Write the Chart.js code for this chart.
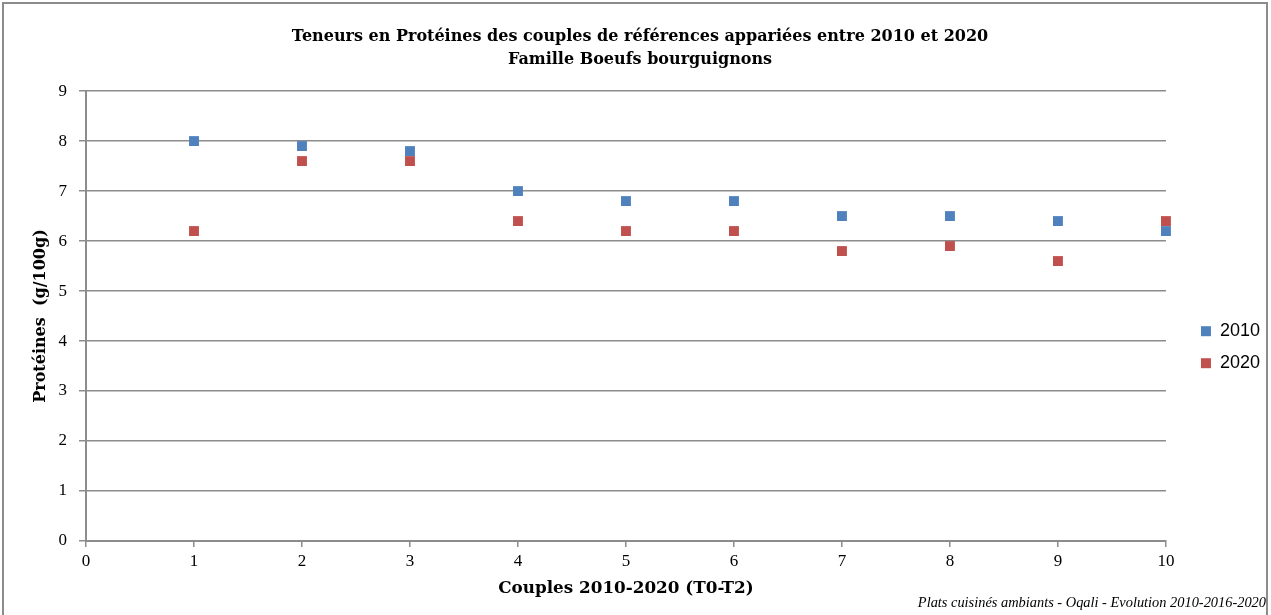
<!DOCTYPE html>
<html>
<head>
<meta charset="utf-8">
<script src="https://cdn.jsdelivr.net/npm/chart.js@4/dist/chart.umd.min.js"></script>
<style>
  html, body { margin: 0; padding: 0; background: #fff; }
  #wrap { position: relative; width: 1271px; height: 615px; overflow: hidden; }
  #frame { position: absolute; left: 2px; top: 2px; width: 1266px; height: 640px; border: 2px solid #8c8c8c; box-sizing: border-box; }
  canvas { position: absolute; left: 0; top: 0; }
  #source { position: absolute; right: 5px; top: 594px; font: italic 14.4px 'Liberation Serif', serif; line-height: 17px; color: #000; white-space: nowrap; }
</style>
</head>
<body>
<div id="wrap">
  <div id="frame"></div>
  <canvas id="chart" width="1271" height="615"></canvas>
  <div id="source">Plats cuisinés ambiants - Oqali - Evolution 2010-2016-2020</div>
</div>
<script>
// Data
const couples = [1, 2, 3, 4, 5, 6, 7, 8, 9, 10];
const proteines2010 = [8.0, 7.9, 7.8, 7.0, 6.8, 6.8, 6.5, 6.5, 6.4, 6.2];
const proteines2020 = [6.2, 7.6, 7.6, 6.4, 6.2, 6.2, 5.8, 5.9, 5.6, 6.4];
const seriesLabels = ['2010', '2020'];
const seriesColors = ['#4f81bd', '#c0504d'];

const titleSerif = "'DejaVu Serif', 'Liberation Serif', serif";
const serif = "'Liberation Serif', 'DejaVu Serif', serif";
const sans = "'Liberation Sans', 'Open Sans', sans-serif";
const gridGray = '#8c8c8c';

function toPoints(values) {
  return couples.map((c, i) => ({ x: c, y: values[i] }));
}

// push the legend a bit further from the plot, like the original
const legendOffset = {
  id: 'legendOffset',
  afterLayout(chart) {
    const lg = chart.legend;
    if (lg) { lg.left += 21; lg.right += 21; }
  },
};

const ctx = document.getElementById('chart').getContext('2d');
new Chart(ctx, {
  type: 'scatter',
  data: {
    datasets: [
      {
        label: seriesLabels[0],
        data: toPoints(proteines2010),
        backgroundColor: seriesColors[0],
        borderColor: seriesColors[0],
        pointStyle: 'rect',
        pointRadius: 7,
        borderWidth: 0,
        clip: false,
      },
      {
        label: seriesLabels[1],
        data: toPoints(proteines2020),
        backgroundColor: seriesColors[1],
        borderColor: seriesColors[1],
        pointStyle: 'rect',
        pointRadius: 7,
        borderWidth: 0,
        clip: false,
      },
    ],
  },
  plugins: [legendOffset],
  options: {
    responsive: false,
    animation: false,
    layout: { padding: { left: 31, right: 22, top: 0, bottom: 21 } },
    plugins: {
      title: {
        display: true,
        text: ['Teneurs en Protéines des couples de références appariées entre 2010 et 2020', 'Famille Boeufs bourguignons'],
        color: '#000',
        font: { family: titleSerif, size: 16, weight: 'bold', lineHeight: 1.44 },
        padding: { top: 25, bottom: 20 },
      },
      legend: {
        position: 'right',
        title: { display: true, text: '', padding: { top: 0, bottom: 86 } },
        labels: {
          boxWidth: 10,
          boxHeight: 10,
          color: '#000',
          font: { family: sans, size: 18 },
          padding: 14,
        },
      },
      tooltip: { enabled: false },
    },
    scales: {
      x: {
        type: 'linear',
        min: 0,
        max: 10,
        ticks: { stepSize: 1, color: '#000', font: { family: serif, size: 17 }, padding: 4 },
        grid: { drawOnChartArea: false, drawTicks: true, tickLength: 6, color: gridGray, lineWidth: 1.5 },
        border: { color: gridGray, width: 2 },
        title: {
          display: true,
          text: 'Couples 2010-2020 (T0-T2)',
          color: '#000',
          font: { family: titleSerif, size: 16.8, weight: 'bold' },
          padding: { top: 4, bottom: -5 },
        },
        afterFit: (scale) => { scale.height = 53; },
      },
      y: {
        type: 'linear',
        min: 0,
        max: 9,
        ticks: { stepSize: 1, color: '#000', font: { family: serif, size: 17 }, padding: 12 },
        grid: { color: gridGray, lineWidth: 1.5, drawTicks: true, tickLength: 7 },
        border: { color: gridGray, width: 2 },
        title: {
          display: true,
          text: 'Protéines  (g/100g)',
          color: '#000',
          font: { family: titleSerif, size: 16, weight: 'bold' },
          padding: 0,
        },
        afterFit: (scale) => { scale.width = 55; },
      },
    },
  },
});
</script>
</body>
</html>
